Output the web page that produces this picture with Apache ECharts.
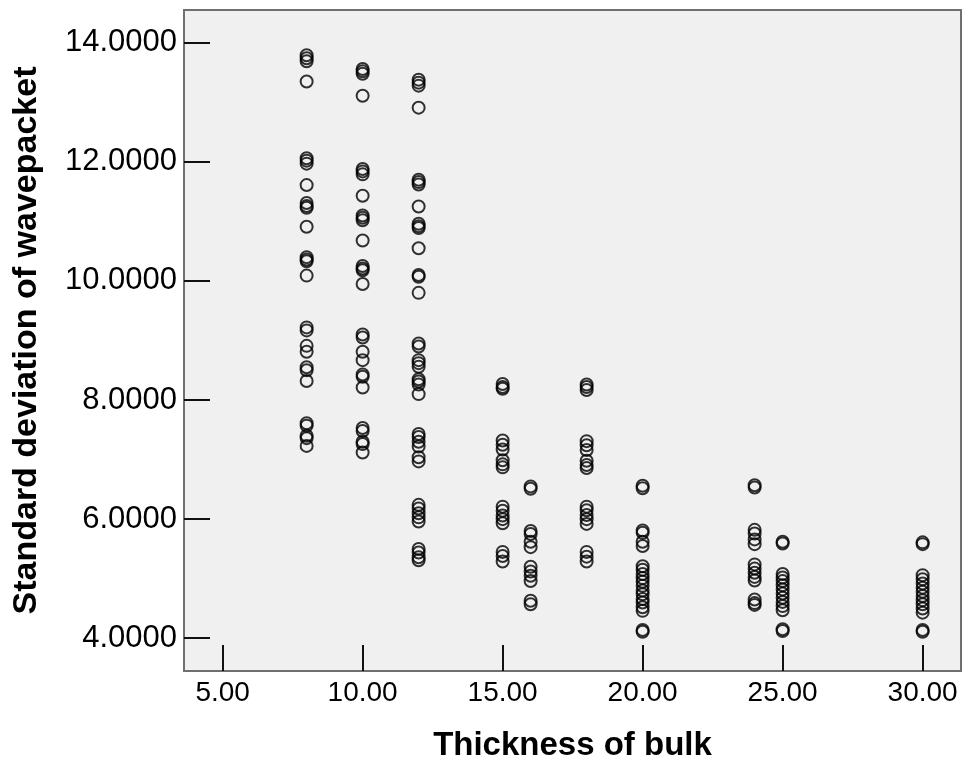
<!DOCTYPE html>
<html>
<head>
<meta charset="utf-8">
<script src="https://cdn.jsdelivr.net/npm/echarts@6/dist/echarts.min.js"></script>
<style>
html,body{margin:0;padding:0;background:#fff;}
#chart{width:969px;height:763px;}
</style>
</head>
<body>
<div id="chart"></div>
<script>
// Thickness of bulk (x categories of the scatter columns)
var thickness = [8, 10, 12, 15, 16, 18, 20, 24, 25, 30];

// Standard deviation of wavepacket, one list per thickness
var sd8  = [13.79, 13.74, 13.69, 13.35, 12.06, 12.02, 11.97, 11.61, 11.31, 11.26, 11.23, 10.91, 10.40, 10.36, 10.33, 10.09, 9.22, 9.17, 8.91, 8.81, 8.55, 8.50, 8.32, 7.61, 7.57, 7.40, 7.36, 7.23];
var sd10 = [13.56, 13.52, 13.48, 13.11, 11.88, 11.84, 11.79, 11.43, 11.10, 11.06, 11.02, 10.68, 10.25, 10.21, 10.18, 9.95, 9.10, 9.05, 8.81, 8.67, 8.43, 8.39, 8.21, 7.53, 7.48, 7.30, 7.26, 7.12];
var sd12 = [13.38, 13.33, 13.28, 12.91, 11.70, 11.66, 11.62, 11.25, 10.96, 10.92, 10.89, 10.55, 10.10, 10.07, 9.80, 8.95, 8.90, 8.67, 8.62, 8.56, 8.35, 8.31, 8.26, 8.10, 7.43, 7.38, 7.30, 7.22, 7.04, 6.97, 6.24, 6.18, 6.10, 6.03, 5.96, 5.50, 5.44, 5.36, 5.31];
var sd15 = [8.27, 8.22, 8.19, 7.32, 7.25, 7.17, 6.99, 6.92, 6.87, 6.21, 6.14, 6.06, 6.00, 5.93, 5.45, 5.38, 5.29];
var sd16 = [6.55, 6.51, 5.80, 5.75, 5.62, 5.53, 5.20, 5.12, 5.05, 4.96, 4.63, 4.57];
var sd18 = [8.26, 8.22, 8.17, 7.31, 7.24, 7.16, 6.98, 6.91, 6.86, 6.21, 6.15, 6.07, 6.00, 5.92, 5.45, 5.37, 5.29];
var sd20 = [6.56, 6.52, 5.81, 5.77, 5.62, 5.55, 5.21, 5.15, 5.08, 5.01, 4.95, 4.88, 4.80, 4.74, 4.66, 4.60, 4.52, 4.46, 4.14, 4.11];
var sd24 = [6.57, 6.53, 5.82, 5.76, 5.66, 5.58, 5.24, 5.17, 5.10, 5.03, 4.97, 4.65, 4.59, 4.56];
var sd25 = [5.62, 5.59, 5.08, 5.02, 4.96, 4.89, 4.82, 4.75, 4.68, 4.61, 4.54, 4.47, 4.15, 4.12];
var sd30 = [5.61, 5.58, 5.06, 4.99, 4.92, 4.85, 4.78, 4.71, 4.64, 4.57, 4.50, 4.43, 4.14, 4.11];

// Tick labels
var xTicks = [5, 10, 15, 20, 25, 30];
var yTicks = [4, 6, 8, 10, 12, 14];

var columns = [sd8, sd10, sd12, sd15, sd16, sd18, sd20, sd24, sd25, sd30];
var points = [];
columns.forEach(function (col, i) {
  col.forEach(function (v) { points.push([thickness[i], v]); });
});

var chart = echarts.init(document.getElementById('chart'), null, {renderer: 'canvas'});
var font = '"Liberation Sans", Arial, sans-serif';
chart.setOption({
  backgroundColor: '#ffffff',
  animation: false,
  grid: {
    left: 184, top: 10, width: 777, height: 661,
    containLabel: false,
    outerBoundsMode: 'none',
    show: true, backgroundColor: '#f0f0f0',
    borderColor: '#6f6f6f', borderWidth: 2
  },
  xAxis: {
    type: 'value',
    min: 3.62, max: 31.37,
    name: 'Thickness of bulk',
    nameLocation: 'middle',
    nameGap: 58,
    nameTextStyle: {fontFamily: font, fontSize: 33, fontWeight: 'bold', color: '#000'},
    axisLine: {show: false},
    axisTick: {show: true, inside: true, length: 26, customValues: xTicks,
      lineStyle: {color: '#111', width: 2}},
    axisLabel: {customValues: xTicks, margin: 8, fontFamily: font, fontSize: 28, color: '#000',
      formatter: function (v) { return v.toFixed(2); }},
    splitLine: {show: false}
  },
  yAxis: {
    type: 'value',
    min: 3.45, max: 14.55,
    name: 'Standard deviation of wavepacket',
    nameLocation: 'middle',
    nameGap: 140,
    nameTextStyle: {fontFamily: font, fontSize: 34, fontWeight: 'bold', color: '#000'},
    axisLine: {show: false},
    axisTick: {show: true, inside: true, length: 26, customValues: yTicks,
      lineStyle: {color: '#111', width: 2}},
    axisLabel: {customValues: yTicks, margin: 7, fontFamily: font, fontSize: 31, color: '#000',
      formatter: function (v) { return v.toFixed(4); }},
    splitLine: {show: false}
  },
  series: [{
    type: 'scatter',
    data: points,
    symbol: 'circle',
    symbolSize: 12,
    itemStyle: {color: 'rgba(0,0,0,0)', borderColor: '#000', borderWidth: 2}
  }]
});
</script>
</body>
</html>
